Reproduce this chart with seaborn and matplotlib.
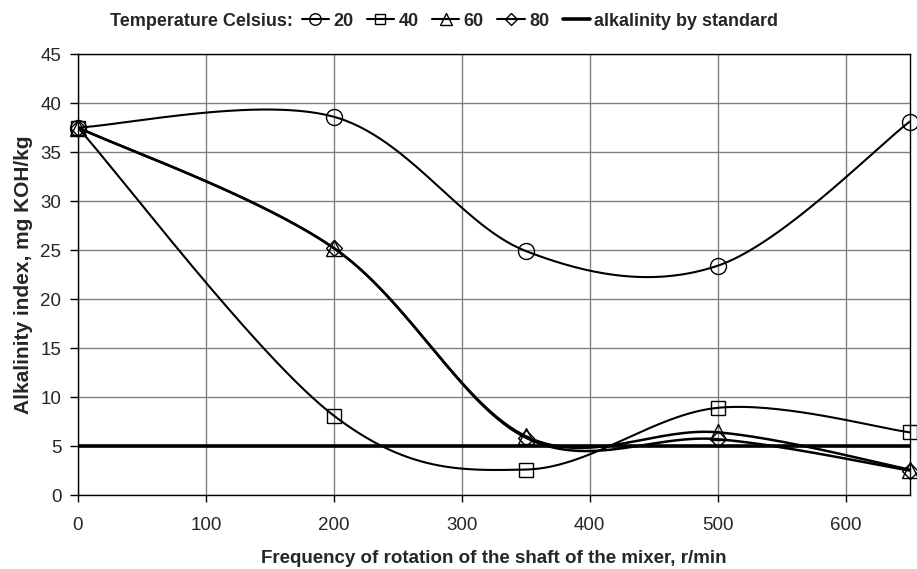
import numpy as np
import pandas as pd
import seaborn as sns
import matplotlib.pyplot as plt
from matplotlib.lines import Line2D

# data
rpm = [0, 200, 350, 500, 650]
alk_20 = [37.5, 38.6, 24.9, 23.4, 38.1]
alk_40 = [37.5, 8.1, 2.6, 8.9, 6.4]
alk_60 = [37.5, 25.2, 6.0, 6.4, 2.6]
alk_80 = [37.5, 25.2, 5.85, 5.7, 2.5]
standard = 5.0

series_names = ["20", "40", "60", "80"]
series_values = [alk_20, alk_40, alk_60, alk_80]
series_markers = ["o", "s", "^", "D"]
series_msize = [11.5, 10.5, 11.5, 8.2]
series_lw = [1.5, 1.5, 1.8, 1.8]


def smooth_curve(xs, ys, n=60):
    # bezier smoothing like a spreadsheet "smoothed line"
    pts = np.column_stack([xs, ys]).astype(float)
    t = np.linspace(0, 1, n)[:, None]
    out = []
    for i in range(len(pts) - 1):
        p0 = pts[i - 1] if i > 0 else pts[i]
        p1 = pts[i]
        p2 = pts[i + 1]
        p3 = pts[i + 2] if i + 2 < len(pts) else pts[i + 1]
        b1 = p1 + (p2 - p0) / 6
        b2 = p2 - (p3 - p1) / 6
        seg = ((1 - t) ** 3) * p1 + 3 * ((1 - t) ** 2) * t * b1 + 3 * (1 - t) * t ** 2 * b2 + t ** 3 * p2
        out.append(seg if i == 0 else seg[1:])
    return np.vstack(out)


def main():
    sns.set_style("white")
    plt.rcParams["font.family"] = ["Liberation Sans", "DejaVu Sans"]

    fig = plt.figure(figsize=(9.17, 5.69), dpi=100)
    ax = fig.add_axes([0.085, 0.130, 0.907, 0.775])

    # standard line
    sns.lineplot(x=[rpm[0], rpm[-1]], y=[standard, standard], ax=ax,
                 color="black", linewidth=2.6, zorder=3)

    for name, vals, lw in zip(series_names, series_values, series_lw):
        curve = smooth_curve(rpm, vals)
        df = pd.DataFrame({"x": curve[:, 0], "y": curve[:, 1]})
        sns.lineplot(data=df, x="x", y="y", ax=ax, color="black",
                     linewidth=lw, sort=False, estimator=None, zorder=4)

    for vals, mk, ms in zip(series_values, series_markers, series_msize):
        ax.plot(rpm, vals, linestyle="none", marker=mk, markersize=ms,
                markerfacecolor="none", markeredgecolor="black",
                markeredgewidth=1.0, zorder=5, clip_on=False)

    ax.set_xlim(0, 650)
    ax.set_ylim(0, 45)
    ax.set_xticks(range(0, 700, 100))
    ax.set_yticks(range(0, 50, 5))
    ax.grid(True, color="#808080", linewidth=1.0)
    ax.set_axisbelow(True)
    for sp in ax.spines.values():
        sp.set_visible(True)
        sp.set_color("black")
        sp.set_linewidth(1.0)
    ax.tick_params(axis="both", direction="out", width=1,
                   color="black", labelsize=13.5,
                   bottom=True, left=True)
    ax.tick_params(axis="y", length=6, pad=6)
    ax.tick_params(axis="x", length=5, pad=11)

    ax.set_xlabel("Frequency of rotation of the shaft of the mixer, r/min",
                  fontsize=13.5, fontweight="bold", labelpad=11)
    ax.set_ylabel("Alkalinity index, mg KOH/kg", fontsize=15,
                  fontweight="bold", labelpad=5)

    # legend on top
    handles = []
    for name, mk, ms in zip(series_names, series_markers, series_msize):
        handles.append(Line2D([], [], color="black", linewidth=1.5, marker=mk,
                              markersize=ms * 0.72, markerfacecolor="none",
                              markeredgecolor="black"))
    handles.append(Line2D([], [], color="black", linewidth=2.6))
    labels = series_names + ["alkalinity by standard"]

    fig.text(0.120, 0.963, "Temperature Celsius:", fontsize=13,
             fontweight="bold", va="center", ha="left")
    fig.legend(handles, labels, loc="center left", bbox_to_anchor=(0.329, 0.963),
               ncol=5, frameon=False, handlelength=1.5, handletextpad=0.25,
               columnspacing=0.75, borderpad=0, borderaxespad=0,
               prop={"weight": "bold", "size": 13})

    fig.savefig("out.png", dpi=100)
    plt.close(fig)


if __name__ == "__main__":
    main()
